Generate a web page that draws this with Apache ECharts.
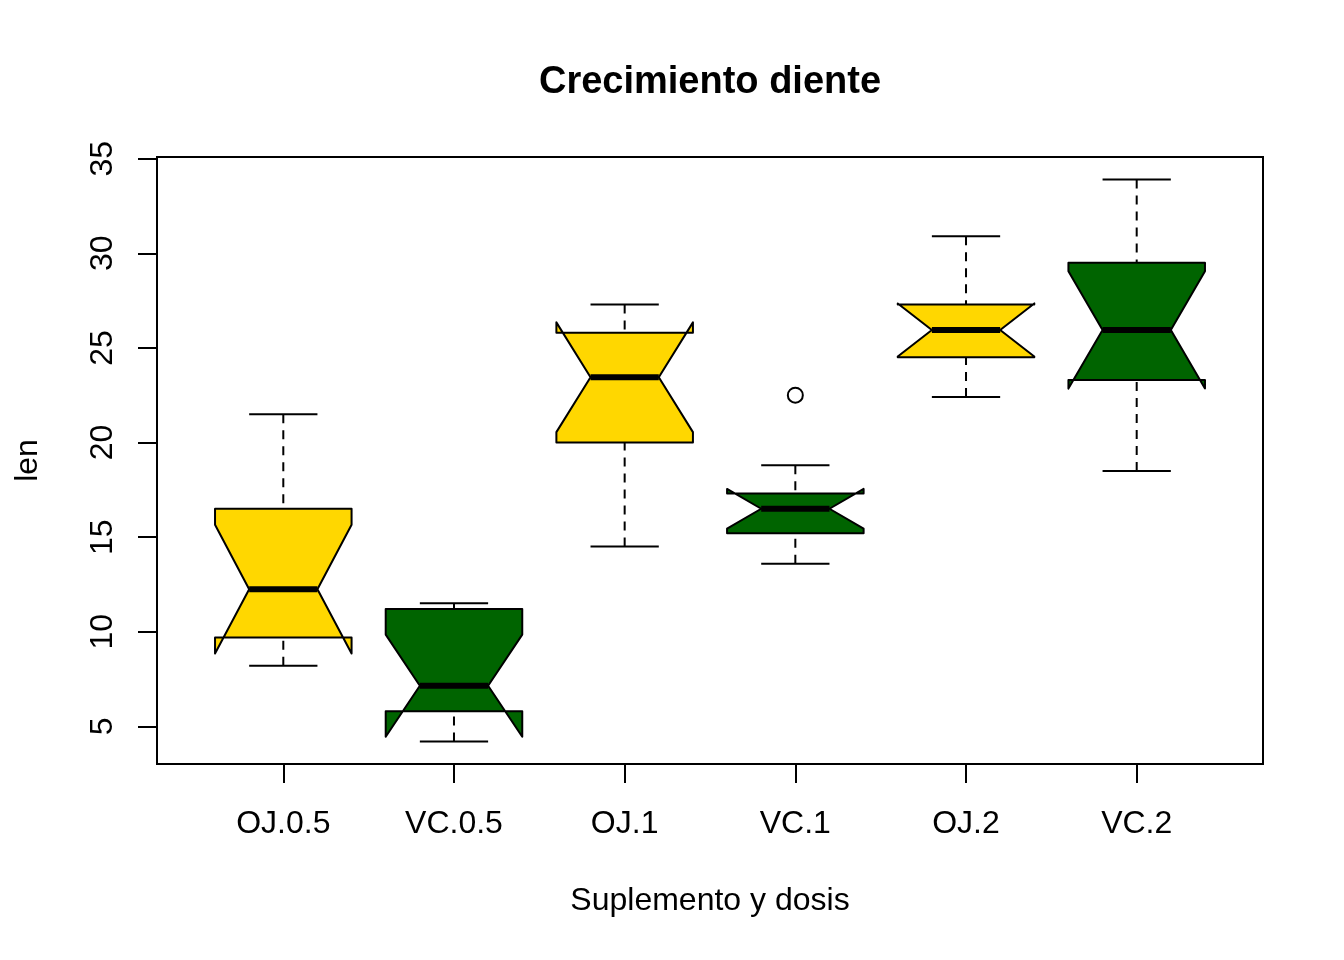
<!DOCTYPE html>
<html>
<head>
<meta charset="utf-8">
<script src="https://cdn.jsdelivr.net/npm/echarts@6/dist/echarts.min.js"></script>
<style>
html,body{margin:0;padding:0;background:#fff;}
#main{width:1344px;height:960px;}
</style>
</head>
<body>
<div id="main"></div>
<script>
const categories = ['OJ.0.5', 'VC.0.5', 'OJ.1', 'VC.1', 'OJ.2', 'VC.2'];
const whiskerLow  = [8.2, 4.2, 14.5, 13.6, 22.4, 18.5];
const hingeLow    = [9.7, 5.8, 20.0, 15.2, 24.5, 23.3];
const medians     = [12.25, 7.15, 23.45, 16.5, 25.95, 25.95];
const hingeHigh   = [16.5, 11.2, 25.8, 17.3, 27.3, 29.5];
const whiskerHigh = [21.5, 11.5, 27.3, 18.8, 30.9, 33.9];
const notchLow    = [8.85, 4.45, 20.55, 15.45, 24.55, 22.85];
const notchHigh   = [15.65, 9.85, 26.35, 17.55, 27.35, 29.05];
const outlierCategory = ['VC.1'];
const outlierValues   = [22.5];
const yTicks = [5, 10, 15, 20, 25, 30, 35];
const boxColors = ['#FFD700', '#006400', '#FFD700', '#006400', '#FFD700', '#006400'];

const positions = categories.map((c, i) => i + 1);
const boxData = categories.map((c, i) => [
  positions[i], whiskerLow[i], hingeLow[i], medians[i], hingeHigh[i], whiskerHigh[i], notchLow[i], notchHigh[i]
]);
const outlierData = outlierCategory.map((c, k) => [categories.indexOf(c) + 1, outlierValues[k]]);

const FONT = '"Liberation Sans", Arial, Helvetica, sans-serif';

function renderBox(params, api) {
  const p = api.value(0);
  const wl = api.value(1), q1 = api.value(2), md = api.value(3), q3 = api.value(4), wh = api.value(5);
  const nl = api.value(6), nh = api.value(7);
  const cx = api.coord([p, md])[0];
  const w = api.coord([p + 0.4, md])[0] - cx;
  const Y = v => api.coord([p, v])[1];
  const fill = boxColors[params.dataIndex];
  const lineStyle = { stroke: '#000', lineWidth: 2 };
  const dashStyle = { stroke: '#000', lineWidth: 2, lineDash: [9, 7] };
  const pts = [
    [cx - w, Y(q1)], [cx + w, Y(q1)], [cx + w, Y(nl)], [cx + w / 2, Y(md)], [cx + w, Y(nh)],
    [cx + w, Y(q3)], [cx - w, Y(q3)], [cx - w, Y(nh)], [cx - w / 2, Y(md)], [cx - w, Y(nl)]
  ];
  return {
    type: 'group',
    children: [
      { type: 'line', shape: { x1: cx, y1: Y(wl), x2: cx, y2: Y(q1) }, style: dashStyle },
      { type: 'line', shape: { x1: cx, y1: Y(wh), x2: cx, y2: Y(q3) }, style: dashStyle },
      { type: 'line', shape: { x1: cx - w / 2, y1: Y(wl), x2: cx + w / 2, y2: Y(wl) }, style: lineStyle },
      { type: 'line', shape: { x1: cx - w / 2, y1: Y(wh), x2: cx + w / 2, y2: Y(wh) }, style: lineStyle },
      { type: 'polygon', shape: { points: pts }, style: { fill: fill, stroke: '#000', lineWidth: 2, lineJoin: 'round' } },
      { type: 'line', shape: { x1: cx - w / 2, y1: Y(md), x2: cx + w / 2, y2: Y(md) }, style: { stroke: '#000', lineWidth: 6, lineCap: 'butt' } }
    ]
  };
}

const chart = echarts.init(document.getElementById('main'), null, { renderer: 'canvas' });
chart.setOption({
  backgroundColor: '#fff',
  animation: false,
  title: {
    text: 'Crecimiento diente',
    left: 710,
    top: 64,
    padding: 0,
    textAlign: 'center',
    textStyle: { fontFamily: FONT, fontSize: 38, fontWeight: 'bold', color: '#000' }
  },
  grid: {
    left: 157, top: 157, width: 1106, height: 607,
    show: true, borderColor: '#000', borderWidth: 2, backgroundColor: 'transparent'
  },
  xAxis: {
    type: 'value',
    min: 0.26, max: 6.74,
    name: 'Suplemento y dosis',
    nameLocation: 'middle',
    nameGap: 121,
    nameTextStyle: { fontFamily: FONT, fontSize: 32, color: '#000', verticalAlign: 'top' },
    axisLine: { show: false },
    splitLine: { show: false },
    axisTick: { show: true, customValues: positions, length: 19, lineStyle: { color: '#000', width: 2 } },
    axisLabel: {
      customValues: positions,
      formatter: v => categories[Math.round(v) - 1] || '',
      fontFamily: FONT, fontSize: 32, color: '#000', margin: 44
    }
  },
  yAxis: {
    type: 'value',
    min: 3.012, max: 35.088,
    name: 'len',
    nameLocation: 'middle',
    nameGap: 113,
    nameRotate: 90,
    nameTextStyle: { fontFamily: FONT, fontSize: 32, color: '#000' },
    axisLine: { show: false },
    splitLine: { show: false },
    axisTick: { show: true, customValues: yTicks, length: 19, lineStyle: { color: '#000', width: 2 } },
    axisLabel: {
      customValues: yTicks,
      rotate: 90,
      fontFamily: FONT, fontSize: 32, color: '#000', margin: 38
    }
  },
  series: [
    {
      type: 'custom',
      renderItem: renderBox,
      data: boxData,
      encode: { x: 0, y: [1, 2, 3, 4, 5] },
      z: 2
    },
    {
      type: 'scatter',
      data: outlierData,
      symbol: 'circle',
      symbolSize: 15,
      itemStyle: { color: 'rgba(0,0,0,0)', borderColor: '#000', borderWidth: 2, opacity: 1 },
      z: 3
    }
  ]
});
</script>
</body>
</html>
